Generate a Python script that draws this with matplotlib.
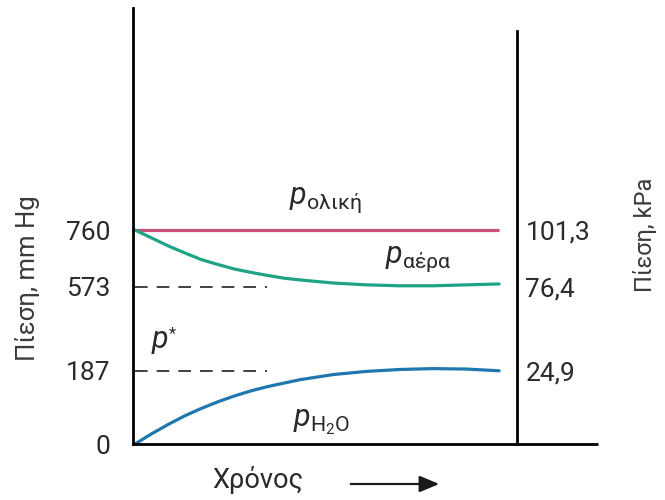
import numpy as np
import matplotlib
matplotlib.use("Agg")
import matplotlib.pyplot as plt
from matplotlib.scale import FuncScale
from matplotlib.patches import FancyArrowPatch

plt.rcParams['font.family'] = ['Roboto', 'DejaVu Sans']
plt.rcParams['mathtext.fontset'] = 'custom'
plt.rcParams['mathtext.rm'] = 'Roboto'
plt.rcParams['mathtext.it'] = 'Roboto:italic'

# ---- data ----
time = [0, 0.5, 1, 1.5, 2, 2.5, 3, 3.5, 4, 4.5, 5, 6, 7, 8, 9, 10, 11]
p_total = [760] * len(time)
p_air = [760, 734, 708, 685, 663, 647, 632, 621, 611, 602, 596,
         586, 580, 577, 577, 580, 583]
p_h2o = [0, 26, 50, 72, 91, 108, 123, 136, 147, 156, 165,
         178, 186, 194, 198, 196, 188]
mm_ticks = [0, 187, 573, 760]
mm_labels = ['0', '187', '573', '760']
kpa_ticks = [101.3, 76.4, 24.9]
kpa_labels = ['101,3', '76,4', '24,9']
ref_levels = [573, 187]

# schematic (non-linear) pressure axis: value -> vertical position
scale_vals = [0, 187, 573, 760, 1500]
scale_pos = [0, 73, 157, 214, 436]


def fwd(v):
    return np.interp(v, scale_vals, scale_pos)


def inv(p):
    return np.interp(p, scale_pos, scale_vals)


fig = plt.figure(figsize=(6.65, 5.0), dpi=100)
W, H = 665, 500
ax = fig.add_axes([133 / W, 1 - 444 / H, (517 - 133) / W, (444 - 8) / H])

ax.set_yscale(FuncScale(ax, (fwd, inv)))
ax.set_ylim(0, 1500)
ax.set_xlim(-0.06, 11.54)

pink = '#c9507f'
green = '#1fa386'
blue = '#1f78ad'
ax.plot(time, p_total, color=pink, lw=2.3, solid_capstyle='butt')
ax.plot(time, p_air, color=green, lw=2.3, solid_capstyle='round',
        solid_joinstyle='round')
ax.plot(time, p_h2o, color=blue, lw=2.3, solid_capstyle='round',
        solid_joinstyle='round')
ax.hlines(ref_levels, 0, 4, colors='#333333', linestyles=(0, (7, 5)), lw=1.3)

ax.spines['top'].set_visible(False)
for s in ['left', 'bottom', 'right']:
    ax.spines[s].set_linewidth(2.0)
    ax.spines[s].set_color('black')
ax.spines['right'].set_bounds(0, 1422)
ax.plot([1, (598 - 133) / (517 - 133)], [0, 0], transform=ax.transAxes,
        color='black', lw=2.0, clip_on=False, solid_capstyle='butt')

ax.set_xticks([])
ax.set_yticks(mm_ticks)
ax.set_yticklabels(mm_labels)
ax.tick_params(axis='y', length=0, pad=16, labelsize=19, labelcolor='#2a2a2a')

ax2 = ax.twinx()
ax2.set_yscale(FuncScale(ax2, (fwd, inv)))
ax2.set_ylim(0, 1500)
for s in ax2.spines.values():
    s.set_visible(False)
ax2.set_yticks([k * 760 / 101.325 for k in kpa_ticks])
ax2.set_yticklabels(kpa_labels)
ax2.tick_params(axis='y', length=0, pad=6, labelsize=19, labelcolor='#2a2a2a')

fig.text(27 / W, 1 - 278 / H, 'Πίεση, mm Hg', rotation=90, ha='center', va='center',
         fontsize=18.5, color='#3a3a3a')
fig.text(645 / W, 1 - 235 / H, 'Πίεση, kPa', rotation=90, ha='center', va='center',
         fontsize=17, color='#3a3a3a')
fig.text(258 / W, 1 - 480 / H, 'Χρόνος', ha='center', va='center', fontsize=19.5,
         color='#2a2a2a')
fig.patches.append(FancyArrowPatch(
    (348 / W, 1 - 484 / H), (442 / W, 1 - 484 / H), transform=fig.transFigure,
    arrowstyle='-|>,head_length=0.6,head_width=0.25', mutation_scale=20,
    color='#1a1a1a', lw=1.6))

lab_kw = dict(ha='center', va='center', color='#2a2a2a', fontsize=22)
fig.text(325 / W, 1 - 200 / H, r'$p_{\mathrm{ολική}}$', **lab_kw)
fig.text(418 / W, 1 - 259 / H, r'$p_{\mathrm{αέρα}}$', **lab_kw)
fig.text(160 / W, 1 - 341 / H, r'$p$', **lab_kw)
fig.text(172 / W, 1 - 334 / H, '*', ha='center', va='center', color='#2a2a2a',
         fontsize=12)
fig.text(322 / W, 1 - 422 / H, r'$p_{\mathrm{H_2O}}$', **lab_kw)

fig.savefig('out.png', dpi=100)
